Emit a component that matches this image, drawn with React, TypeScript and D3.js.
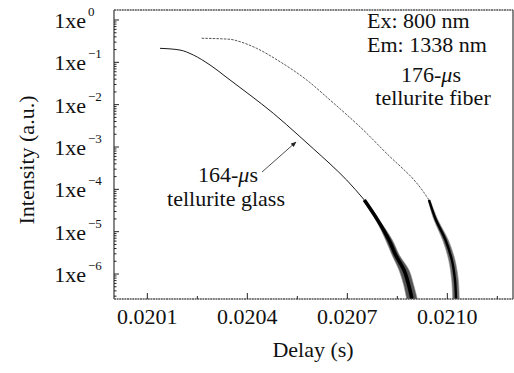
import React from 'react';
import * as d3 from 'd3';

const W = 514;
const H = 373;

// decay curves: [delay (s), intensity (a.u.)]
const glassCurve: [number, number][] = [
  [0.020138, 0.214], [0.020198, 0.195], [0.020238, 0.149], [0.020288, 0.0865],
  [0.020348, 0.0383], [0.020408, 0.0169], [0.020478, 0.00625], [0.020558, 0.00175],
  [0.020598, 9.1e-4], [0.020648, 4.0e-4], [0.020698, 1.66e-4], [0.020751, 5.6e-5],
];
const fiberCurve: [number, number][] = [
  [0.020263, 0.37], [0.020348, 0.35], [0.020378, 0.307], [0.020428, 0.214],
  [0.020498, 0.1035], [0.020578, 0.0383], [0.020648, 0.0129], [0.020748, 0.00252],
  [0.020828, 5.9e-4], [0.020868, 3.0e-4], [0.020898, 1.74e-4], [0.020925, 9.5e-5],
  [0.020945, 5.6e-5],
];

// noisy tails: [intensity, lowest delay, highest delay]
const glassTail: [number, number, number][] = [
  [5.6e-5, 0.020748, 0.020754], [1.88e-5, 0.020786, 0.020796], [6.35e-6, 0.020815, 0.020835],
  [2.81e-6, 0.020834, 0.020856], [1.24e-6, 0.020855, 0.020885], [5.5e-7, 0.020869, 0.020899],
  [2.56e-7, 0.020878, 0.02091],
];
const fiberTail: [number, number, number][] = [
  [5.6e-5, 0.020942, 0.020948], [1.88e-5, 0.02096, 0.020972], [6.35e-6, 0.020986, 0.021003],
  [2.14e-6, 0.021004, 0.021023], [7.21e-7, 0.021013, 0.021033], [2.56e-7, 0.021016, 0.021036],
];

const xMajor = [0.0201, 0.0204, 0.0207, 0.0210];
const xMinor = [0.02025, 0.02055, 0.02085, 0.02115];
const yExponents = [0, -1, -2, -3, -4, -5, -6];

const FONT = "'Liberation Serif', 'DejaVu Serif', 'Noto Serif', Tinos, FreeSerif, 'Times New Roman', Times, serif";

export default function App() {
  const left = 114, right = 513, top = 10, bottom = 299;

  const x = d3.scaleLinear().domain([0.0200, 0.0212]).range([left, 514]);
  const y = d3.scaleLog().domain([Math.pow(10, -6.59), Math.pow(10, 0.236)]).range([bottom, top]);

  const line = d3.line<[number, number]>()
    .x(d => x(d[0]))
    .y(d => y(d[1]))
    .curve(d3.curveMonotoneX);

  const tail = d3.area<[number, number, number]>()
    .y(d => y(d[0]))
    .x0(d => x(d[1]))
    .x1(d => x(d[2]))
    .curve(d3.curveCatmullRom);

  const tailCore = d3.line<[number, number, number]>()
    .x(d => x((d[1] + d[2]) / 2))
    .y(d => y(d[0]))
    .curve(d3.curveCatmullRom);

  // minor log ticks 2..9 inside each decade
  const yMinor: number[] = [];
  for (let k = -7; k <= 0; k++) {
    for (let m = 2; m <= 9; m++) {
      const v = m * Math.pow(10, k);
      if (y(v) >= top && y(v) <= bottom) yMinor.push(v);
    }
  }

  const txt = { fontFamily: FONT };

  return (
    <svg width={W} height={H} style={{ display: 'block', position: 'absolute', left: 0, top: 0, fontFamily: FONT }}>
      <defs>
        <clipPath id="plot">
          <rect x={left} y={top} width={right - left} height={bottom - top} />
        </clipPath>
        <marker id="arrow" viewBox="0 0 10 10" refX="9" refY="5" markerWidth="7" markerHeight="7" orient="auto">
          <path d="M0,1 L10,5 L0,9 z" fill="#222" />
        </marker>
      </defs>
      <rect width={W} height={H} fill="#fff" />

      <g clipPath="url(#plot)">
        <path d={line(fiberCurve) || ''} fill="none" stroke="#444" strokeWidth={0.9} strokeDasharray="2.5,1.2" />
        <path d={line(glassCurve) || ''} fill="none" stroke="#1a1a1a" strokeWidth={1} />
        <path d={tail(glassTail) || ''} fill="#555" stroke="#999" strokeWidth={1} strokeOpacity={0.6} />
        <path d={tail(fiberTail) || ''} fill="#666" stroke="#999" strokeWidth={1} strokeOpacity={0.6} />
        <path d={tailCore(glassTail) || ''} fill="none" stroke="#000" strokeWidth={3.6} />
        <path d={tailCore(fiberTail) || ''} fill="none" stroke="#000" strokeWidth={2.4} />
      </g>

      {/* frame */}
      <g stroke="#555" strokeWidth={1.4} fill="none">
        <line x1={left} x2={right} y1={top} y2={top} strokeDasharray="2,0.6" />
        <line x1={left} x2={right} y1={bottom} y2={bottom} strokeDasharray="2,0.6" />
        <line x1={left} x2={left} y1={top} y2={bottom} />
        <line x1={right} x2={right} y1={top} y2={bottom} />
      </g>

      {/* ticks */}
      <g stroke="#222" strokeWidth={1}>
        {yExponents.map(e => (
          <line key={'ym' + e} x1={left} x2={left + 5} y1={y(Math.pow(10, e))} y2={y(Math.pow(10, e))} />
        ))}
        {yMinor.map((v, i) => (
          <line key={'yn' + i} x1={left} x2={left + 2.5} y1={y(v)} y2={y(v)} />
        ))}
        {xMajor.map(v => (
          <line key={'xm' + v} x1={x(v)} x2={x(v)} y1={bottom} y2={bottom - 6} />
        ))}
        {xMinor.map(v => (
          <line key={'xn' + v} x1={x(v)} x2={x(v)} y1={bottom} y2={bottom - 3} />
        ))}
      </g>

      {/* labels */}
      <g fill="#111" style={txt}>
        {yExponents.map(e => (
          <g key={'yl' + e}>
            <text style={txt} x={86} y={y(Math.pow(10, e)) + 8} fontSize={22} textAnchor="end">1xe</text>
            <text style={txt} x={88} y={y(Math.pow(10, e)) - 4} fontSize={13}>{e === 0 ? '0' : '\u2212' + Math.abs(e)}</text>
          </g>
        ))}
        {xMajor.map(v => (
          <text style={txt} key={'xl' + v} x={x(v)} y={324} fontSize={22} textAnchor="middle">{v.toFixed(4)}</text>
        ))}
        <text style={txt} x={313} y={357} fontSize={22} textAnchor="middle">Delay (s)</text>
        <text style={txt} transform="translate(34,160) rotate(-90)" fontSize={22} textAnchor="middle">Intensity (a.u.)</text>

        <text style={txt} x={367} y={28} fontSize={22}>Ex: 800 nm</text>
        <text style={txt} x={367} y={52} fontSize={22}>Em: 1338 nm</text>
        <text style={txt} x={431} y={82} fontSize={22} textAnchor="middle">176-<tspan fontStyle="italic">μ</tspan>s</text>
        <text style={txt} x={433} y={105} fontSize={22} textAnchor="middle">tellurite fiber</text>
        <text style={txt} x={228} y={182} fontSize={22} textAnchor="middle">164-<tspan fontStyle="italic">μ</tspan>s</text>
        <text style={txt} x={226} y={206} fontSize={22} textAnchor="middle">tellurite glass</text>
      </g>

      <line x1={262} y1={172} x2={296} y2={142} stroke="#222" strokeWidth={0.8} markerEnd="url(#arrow)" />
    </svg>
  );
}
